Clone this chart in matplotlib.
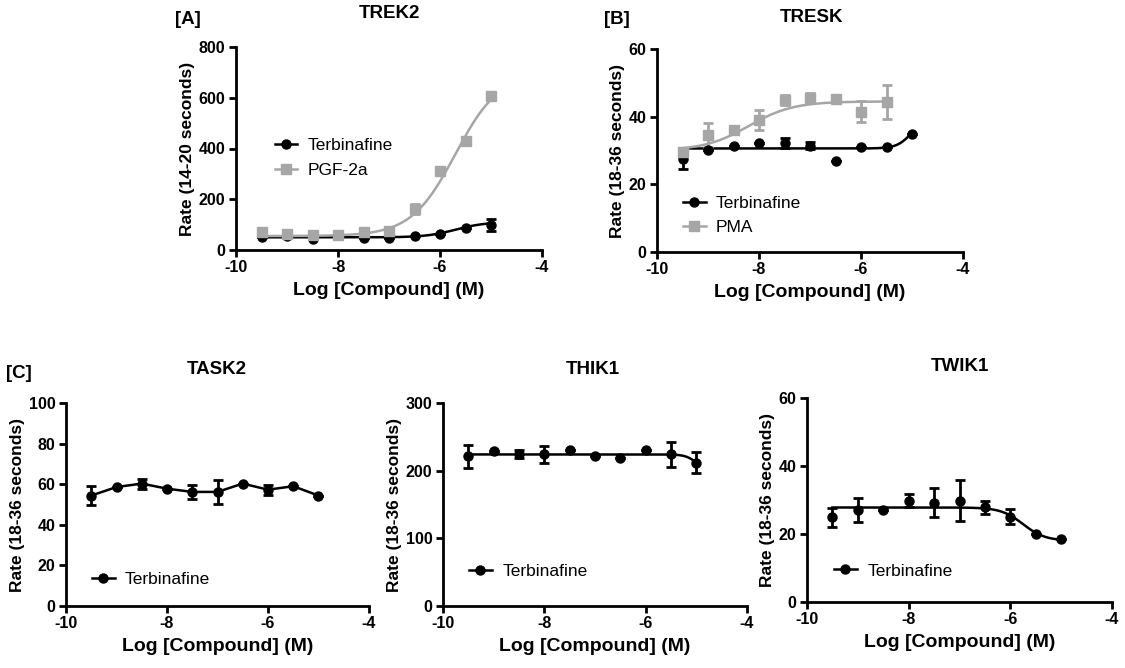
import matplotlib.pyplot as plt
import numpy as np

plt.rcParams['font.family'] = ['Liberation Sans', 'DejaVu Sans']
plt.rcParams['axes.unicode_minus'] = False

log_conc = [-9.5, -9.0, -8.5, -8.0, -7.5, -7.0, -6.5, -6.0, -5.5, -5.0]

# [A] TREK2
trek2_terb = [52, 54, 42, 58, 48, 46, 54, 63, 86, 98]
trek2_terb_err = [0, 0, 0, 0, 0, 0, 0, 0, 0, 25]
trek2_pgf = [72, 62, 58, 58, 72, 75, 160, 310, 430, 605]
trek2_pgf_err = [0, 0, 0, 0, 0, 0, 20, 0, 15, 0]
trek2_terb_fit = [50, 110, -5.7, 1.5]   # bottom, top, logEC50, hill
trek2_pgf_fit = [55, 700, -5.7, 1.0]

# [B] TRESK
tresk_terb = [27.6, 30.1, 31.4, 32.1, 32.1, 31.4, 26.9, 30.9, 30.9, 34.8]
tresk_terb_err = [3, 0, 0, 0, 1.5, 1, 0, 0, 0, 0]
pma_conc = [-9.5, -9.0, -8.5, -8.0, -7.5, -7.0, -6.5, -6.0, -5.5]
tresk_pma = [29.6, 34.5, 36.0, 39.0, 44.9, 45.4, 45.1, 41.5, 44.4]
tresk_pma_err = [1, 3.5, 0, 3, 1.5, 1.5, 0, 3, 5]
tresk_terb_fit = [30.6, 40, -5.0, 3.0]
tresk_pma_fit = [30, 44.5, -8.2, 1.0]

# [C] TASK2, THIK1, TWIK1
task2_terb = [54.4, 58.6, 60.3, 57.8, 56.2, 56.2, 60.3, 57.3, 59.0, 54.4]
task2_err = [4.7, 0, 2.5, 0, 3.5, 6, 0, 2.5, 0, 0]
thik1_terb = [221, 229, 224, 224, 231, 221, 219, 230, 224, 212]
thik1_err = [17, 0, 6, 13, 0, 0, 0, 0, 18, 16]
thik1_fit = [200, 224, -5.0, -4.0]
twik1_terb = [24.9, 27.0, 27.0, 29.8, 29.2, 29.8, 27.8, 25.1, 19.9, 18.4]
twik1_err = [2.8, 3.6, 0, 2, 4.2, 6.1, 2, 2.2, 0, 0]
twik1_fit = [18, 27.8, -5.75, -2.0]

gray = '#a6a6a6'
W, H = 1125, 668
fig = plt.figure(figsize=(W / 100, H / 100), dpi=100)


def sig(x, p):
    b, t, ec, h = p
    return b + (t - b) / (1 + 10 ** ((ec - x) * h))


def make_ax(l, t, r, b):
    ax = fig.add_axes([l / W, 1 - b / H, (r - l) / W, (b - t) / H])
    for s in ['top', 'right']:
        ax.spines[s].set_visible(False)
    for s in ['left', 'bottom']:
        ax.spines[s].set_linewidth(2)
    ax.tick_params(width=2, length=5, labelsize=11.5, pad=2.5)
    ax.set_xlim(-10, -4)
    ax.set_xticks([-10, -8, -6, -4])
    ax.set_xlabel('Log [Compound] (M)', fontsize=14, fontweight='bold', labelpad=5)
    return ax


def series(ax, x, y, err, color, marker, label, fit=None, ms=6.5):
    ax.errorbar(x, y, yerr=err, fmt=marker, color=color, ms=ms, capsize=3.5,
                elinewidth=2, capthick=2, zorder=3)
    if fit is not None:
        xf = np.linspace(x[0], x[-1], 200)
        ax.plot(xf, sig(xf, fit), color=color, lw=1.8, zorder=2)
    else:
        ax.plot(x, y, color=color, lw=1.8, zorder=2)
    ax.plot([], [], color=color, marker=marker, ms=ms, lw=1.8, label=label)


def finish(ax, ylabel, lx, ly):
    ax.set_ylabel(ylabel, fontsize=12.5, fontweight='bold', labelpad=3)
    for lab in ax.get_xticklabels() + ax.get_yticklabels():
        lab.set_fontweight('bold')
    ax.legend(loc='center left', bbox_to_anchor=(lx, ly), frameon=False, fontsize=12.5,
              handlelength=1.3, handletextpad=0.6, labelspacing=0.55,
              borderpad=0, borderaxespad=0)


# A
ax = make_ax(236, 47, 542, 250)
series(ax, log_conc, trek2_terb, trek2_terb_err, 'black', 'o', 'Terbinafine', trek2_terb_fit)
series(ax, log_conc, trek2_pgf, trek2_pgf_err, gray, 's', 'PGF-2a', trek2_pgf_fit)
ax.set_ylim(0, 800)
ax.set_yticks([0, 200, 400, 600, 800])
finish(ax, 'Rate (14-20 seconds)', 0.127, 0.453)

# B
ax = make_ax(657, 49, 963, 252)
series(ax, log_conc, tresk_terb, tresk_terb_err, 'black', 'o', 'Terbinafine', tresk_terb_fit)
series(ax, pma_conc, tresk_pma, tresk_pma_err, gray, 's', 'PMA', tresk_pma_fit)
ax.set_ylim(0, 60)
ax.set_yticks([0, 20, 40, 60])
finish(ax, 'Rate (18-36 seconds)', 0.085, 0.18)

# C1
ax = make_ax(66, 403, 369, 606)
series(ax, log_conc, task2_terb, task2_err, 'black', 'o', 'Terbinafine')
ax.set_ylim(0, 100)
ax.set_yticks([0, 20, 40, 60, 80, 100])
finish(ax, 'Rate (18-36 seconds)', 0.086, 0.133)

# C2
ax = make_ax(443, 403, 747, 606)
series(ax, log_conc, thik1_terb, thik1_err, 'black', 'o', 'Terbinafine', thik1_fit)
ax.set_ylim(0, 300)
ax.set_yticks([0, 100, 200, 300])
finish(ax, 'Rate (18-36 seconds)', 0.086, 0.172)

# C3
ax = make_ax(807, 398, 1112, 602)
series(ax, log_conc, twik1_terb, twik1_err, 'black', 'o', 'Terbinafine', twik1_fit)
ax.set_ylim(0, 60)
ax.set_yticks([0, 20, 40, 60])
finish(ax, 'Rate (18-36 seconds)', 0.089, 0.152)

# titles and panel labels
for txt, x, y in [('[A]', 188, 20), ('TREK2', 389, 14), ('[B]', 617, 20), ('TRESK', 812, 17),
                  ('[C]', 19, 373), ('TASK2', 217, 370), ('THIK1', 593, 370), ('TWIK1', 960, 366)]:
    fig.text(x / W, 1 - y / H, txt, ha='center', va='center', fontsize=13.5, fontweight='bold')

fig.savefig('out.png', dpi=100)
